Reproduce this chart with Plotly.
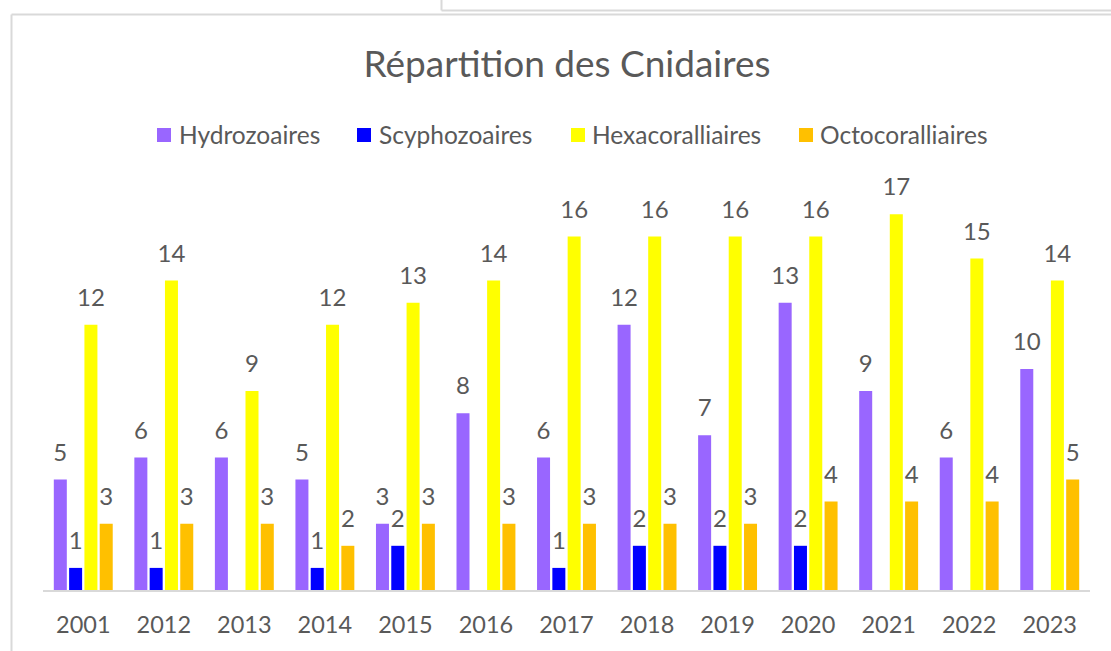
import plotly.graph_objects as go

# --- data ---
years = ["2001", "2012", "2013", "2014", "2015", "2016", "2017",
         "2018", "2019", "2020", "2021", "2022", "2023"]
hydrozoaires = [5, 6, 6, 5, 3, 8, 6, 12, 7, 13, 9, 6, 10]
scyphozoaires = [1, 1, None, 1, 2, None, 1, 2, 2, 2, None, None, None]
hexacoralliaires = [12, 14, 9, 12, 13, 14, 16, 16, 16, 16, 17, 15, 14]
octocoralliaires = [3, 3, 3, 2, 3, 3, 3, 3, 3, 4, 4, 4, 5]

series = [
    ("Hydrozoaires", hydrozoaires, "#9966FF"),
    ("Scyphozoaires", scyphozoaires, "#0000FF"),
    ("Hexacoralliaires", hexacoralliaires, "#FFFF00"),
    ("Octocoralliaires", octocoralliaires, "#FFC000"),
]

# --- layout geometry (pixels) ---
W, H = 1111, 651
PL, PR, PT, PB = 43, 1090, 175, 590
Y_MAX = (PB - PT) / 22.1
TXT = "#595959"
BORDER = "#D9D9D9"
FONT = "Lato"


def px(x):
    return (x - PL) / (PR - PL)


def py(y):
    return (PB - y) / (PB - PT)


fig = go.Figure()

for i, (name, vals, color) in enumerate(series):
    fig.add_trace(go.Bar(
        x=years, y=vals, name=name, marker_color=color, offsetgroup=str(i),
        marker_line_width=0, showlegend=False, hoverinfo="x+y+name",
    ))

# value labels sitting above each bar
for i, (name, vals, color) in enumerate(series):
    fig.add_trace(go.Scatter(
        x=years, y=vals, mode="markers+text", offsetgroup=str(i),
        text=[("" if v is None else str(v)) for v in vals],
        textposition="top center",
        textfont=dict(family=FONT, size=24, color=TXT),
        marker=dict(size=19, opacity=0),
        showlegend=False, hoverinfo="skip", cliponaxis=False,
    ))

shapes = [
    # chart frame (left and top edges)
    dict(type="line", xref="paper", yref="paper", x0=px(11.5), x1=px(11.5),
         y0=py(14.5), y1=py(660), line=dict(color=BORDER, width=2)),
    dict(type="line", xref="paper", yref="paper", x0=px(11.5), x1=px(1120),
         y0=py(14.5), y1=py(14.5), line=dict(color=BORDER, width=2)),
    # neighbouring panel edge at the top right
    dict(type="line", xref="paper", yref="paper", x0=px(441.5), x1=px(441.5),
         y0=py(-2), y1=py(10.5), line=dict(color=BORDER, width=2)),
    dict(type="line", xref="paper", yref="paper", x0=px(441.5), x1=px(1120),
         y0=py(10.5), y1=py(10.5), line=dict(color=BORDER, width=2)),
]

annotations = []
legend_pos = [(157, 179), (357, 379), (571, 592), (799, 820)]
for (name, vals, color), (sx, tx) in zip(series, legend_pos):
    shapes.append(dict(type="rect", xref="paper", yref="paper",
                       x0=px(sx), x1=px(sx + 14), y0=py(128), y1=py(142),
                       fillcolor=color, line=dict(width=0)))
    annotations.append(dict(xref="paper", yref="paper", x=px(tx - 2), y=py(134),
                            xanchor="left", yanchor="middle", showarrow=False,
                            text=name, font=dict(family=FONT, size=24.5, color=TXT)))

fig.update_layout(
    width=W, height=H,
    margin=dict(l=PL, r=W - PR, t=PT, b=H - PB),
    paper_bgcolor="white", plot_bgcolor="white",
    barmode="group", bargap=0.24, bargroupgap=0.15,
    scattermode="group", scattergap=0.24,
    title=dict(text="Répartition des Cnidaires", x=567 / W, xanchor="center",
               xref="container", yref="container", y=1 - 64 / H, yanchor="middle",
               font=dict(family=FONT, size=37, color=TXT)),
    xaxis=dict(showgrid=False, zeroline=False, showline=True, linecolor=BORDER,
               linewidth=2, ticks="", ticklabelstandoff=13,
               tickfont=dict(family=FONT, size=23.5, color=TXT), fixedrange=True),
    yaxis=dict(range=[0, Y_MAX], showgrid=False, zeroline=False, showline=False,
               showticklabels=False, fixedrange=True),
    shapes=shapes, annotations=annotations,
)

fig.write_html("out.html")
